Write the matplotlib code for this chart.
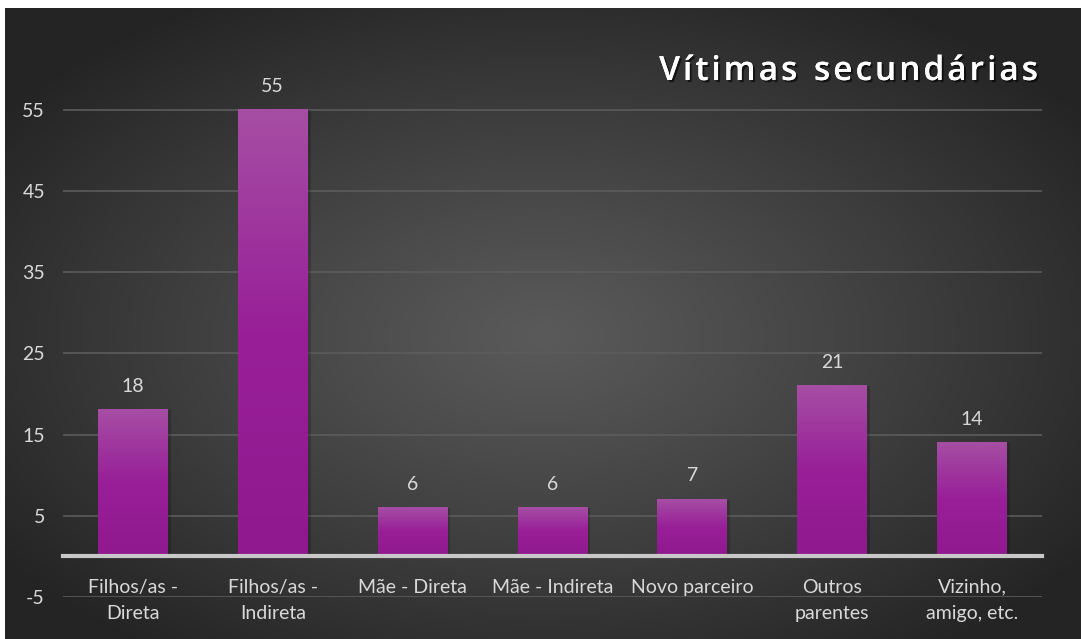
import numpy as np
import matplotlib
matplotlib.use("Agg")
import matplotlib.pyplot as plt
import matplotlib.patheffects as pe
from matplotlib.colors import LinearSegmentedColormap

categories = ["Filhos/as -\nDireta", "Filhos/as -\nIndireta", "Mãe - Direta",
              "Mãe - Indireta", "Novo parceiro", "Outros\nparentes", "Vizinho,\namigo, etc."]
values = [18, 55, 6, 6, 7, 21, 14]
yticks = [-5, 5, 15, 25, 35, 45, 55]
title = "Vítimas secundárias"

W, H = 1081, 639
fig = plt.figure(figsize=(W / 100, H / 100), dpi=100, facecolor="white")

# dark radial-gradient panel
bg = fig.add_axes([5 / W, 0, 1 - 5 / W, 1 - 8 / H])
bg.set_axis_off()
yy, xx = np.mgrid[0:1:300j, 0:1:500j]
r = np.sqrt(((xx - 0.5) / 0.62) ** 2 + ((yy - 0.48) / 0.62) ** 2)
r = np.clip(r, 0, 1)
inner, outer = 90, 36
g = (inner + (outer - inner) * r ** 1.1) / 255.0
img = np.dstack([g, g, g])
bg.imshow(img, extent=[0, 1, 0, 1], aspect="auto", origin="lower")
bg.set_xlim(0, 1)
bg.set_ylim(0, 1)

left, right = 63 / W, 1042 / W
bottom = 42 / H
top_px = 69
ax = fig.add_axes([left, bottom, right - left, (597 - top_px) / H])
ax.set_facecolor("none")
for s in ["top", "right", "left"]:
    ax.spines[s].set_visible(False)
ax.spines["bottom"].set_position(("data", 0))
ax.spines["bottom"].set_color("#c8c8c8")
ax.spines["bottom"].set_linewidth(3)
ax.spines["bottom"].set_zorder(4)

x = np.arange(len(categories))
bars = ax.bar(x, values, width=0.5, color="#9a2c9a", zorder=3)

cmap = LinearSegmentedColormap.from_list("barg", ["#90198f", "#981f98", "#a64ea4"])
grad = np.linspace(0, 1, 256).reshape(-1, 1)
for p in bars:
    x0, w, h = p.get_x(), p.get_width(), p.get_height()
    ax.imshow(grad, cmap=cmap, extent=[x0, x0 + w, 0, h], aspect="auto",
              origin="lower", zorder=3.5)
    ax.add_patch(plt.Rectangle((x0 + 0.02, 0), w, h, color="black", alpha=0.18,
                               zorder=2.5, lw=0))

for xi, v in zip(x, values):
    ax.annotate(str(v), (xi, v), xytext=(0, 13), textcoords="offset points",
                ha="center", va="baseline", color="#d9d9d9", fontsize=14,
                family="Lato")

ax.set_xlim(-0.5, len(categories) - 0.5)
ax.set_ylim(-5, 60)
ax.set_yticks(yticks)
ax.set_yticklabels([str(t) for t in yticks], color="#d9d9d9", fontsize=14, family="Lato")
ax.set_xticks(x)
ax.set_xticklabels(categories, color="#d9d9d9", fontsize=14, family="Lato",
                   linespacing=1.7)
ax.tick_params(axis="both", length=0)
ax.tick_params(axis="y", pad=13)
ax.tick_params(axis="x", pad=16)
ax.grid(axis="y", color="#5c5c5c", lw=1.2, zorder=1)

# title with letter spacing, drawn character by character (right aligned)
renderer = fig.canvas.get_renderer()
tprops = dict(color="white", fontsize=24, weight="semibold", family="Open Sans",
              va="baseline", ha="left",
              path_effects=[pe.withSimplePatchShadow(offset=(1.5, -1.5),
                                                     shadow_rgbFace="black", alpha=0.6),
                            pe.Normal()])
spacing = 3.0
widths = []
for ch in title:
    t = fig.text(0, 0, ch if ch != " " else "a", **tprops)
    wpx = t.get_window_extent(renderer).width
    if ch == " ":
        wpx *= 0.55
    widths.append(wpx)
    t.remove()
total = sum(widths) + spacing * (len(title) - 1)
xpos = 1038 - total
ybase = 1 - 80 / H
for ch, wpx in zip(title, widths):
    if ch != " ":
        fig.text(xpos / W, ybase, ch, **tprops)
    xpos += wpx + spacing

fig.savefig("out.png", dpi=100, facecolor="white")
